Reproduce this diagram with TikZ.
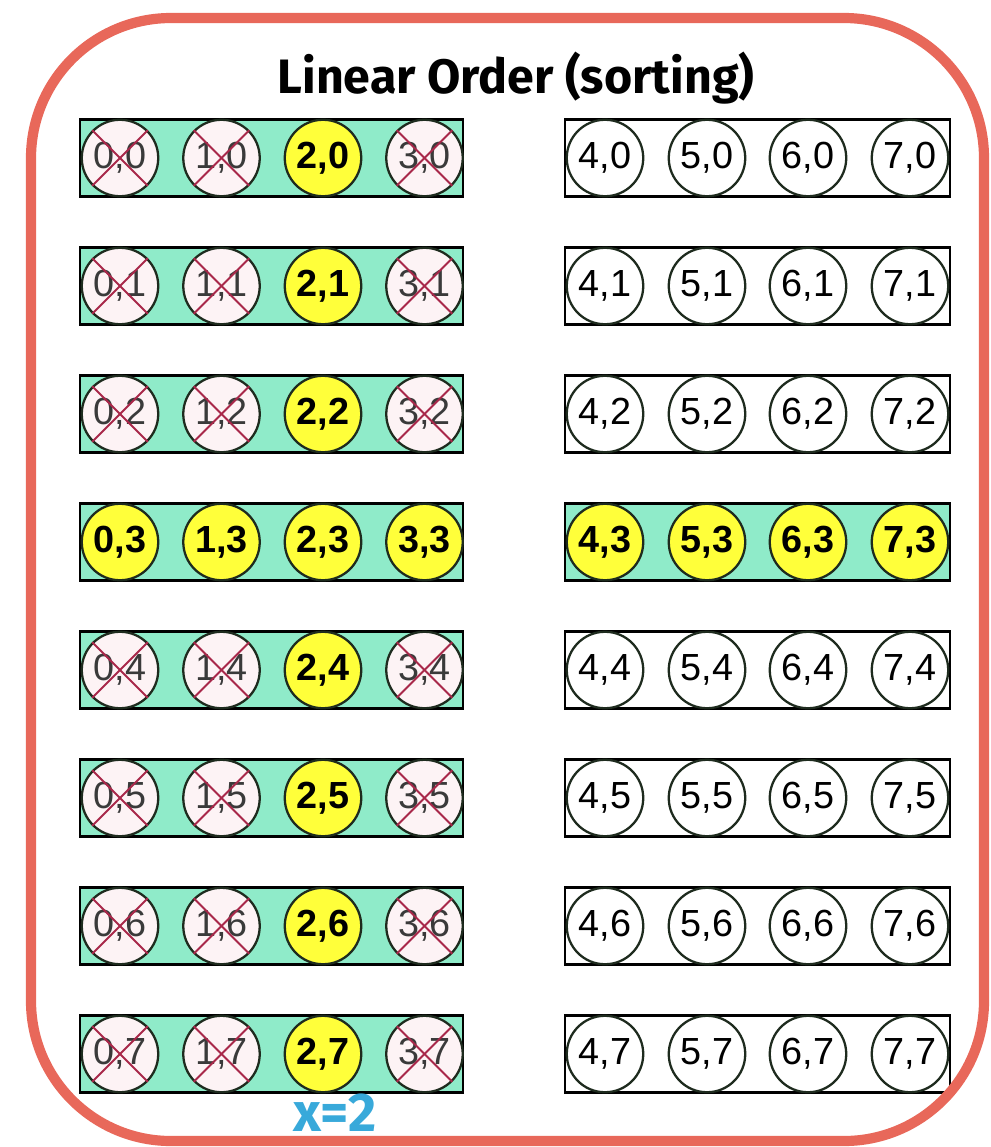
\documentclass[tikz,border=0pt]{standalone}
\usepackage{fontspec}
\setmainfont{Liberation Sans}
\newfontfamily\titlefont{Fira Sans}
\definecolor{outerred}{HTML}{E8685A}
\definecolor{aqua}{HTML}{8FEBC9}
\definecolor{hotyellow}{HTML}{FFFF3A}
\definecolor{deadfill}{HTML}{FDF3F5}
\definecolor{crossred}{HTML}{A8284A}
\definecolor{deadtext}{HTML}{3A3A3A}
\definecolor{cellline}{HTML}{1E2B1E}
\definecolor{xblue}{HTML}{38A9DA}
\begin{document}
\begin{tikzpicture}[x=0.02cm,y=-0.02cm,
  outer/.style={draw=outerred,line width=5.8pt,rounded corners=2.8cm},
  rowbox/.style={draw=black,line width=1.3pt,minimum height=1.54cm,inner sep=0pt},
  cell/.style={circle,draw=cellline,line width=1.3pt,minimum size=1.53cm,inner sep=0pt,
    font=\fontsize{21.5}{24}\selectfont},
  plain/.style={cell,fill=white,text=black},
  hot/.style={cell,fill=hotyellow,text=black,font=\fontsize{21.5}{24}\selectfont\bfseries},
  dead/.style={cell,fill=deadfill,text=deadtext},
  cross/.style={draw=crossred,line width=1.1pt},
  title/.style={font=\titlefont\bfseries\fontsize{27.5}{30}\selectfont,text=black},
  xlabel/.style={font=\titlefont\bfseries\fontsize{31}{33}\selectfont,text=xblue}
]
\useasboundingbox (0,0) rectangle (991,1147);
\node[title] (title) at (516,78) {Linear Order (sorting)};
\foreach \r in {0,...,7}{
  \pgfmathsetmacro\yy{158+128*\r}
  \node[rowbox,fill=aqua,minimum width=7.66cm] (L\r) at (271.5,\yy) {};
  \ifnum\r=3 \def\rf{aqua}\else\def\rf{white}\fi
  \node[rowbox,fill=\rf,minimum width=7.7cm] (R\r) at (757.5,\yy) {};
  \foreach \c/\xx in {0/120,1/221.5,2/323,3/424.5}{
    \ifnum\r=3
      \node[hot] (c\c-\r) at (\xx,\yy) {\c,\r};
    \else\ifnum\c=2
      \node[hot] (c\c-\r) at (\xx,\yy) {\c,\r};
    \else
      \node[dead] (c\c-\r) at (\xx,\yy) {\c,\r};
      \draw[cross] (c\c-\r.north west) -- (c\c-\r.south east);
      \draw[cross] (c\c-\r.north east) -- (c\c-\r.south west);
    \fi\fi
  }
  \foreach \c/\xx in {4/605,5/707,6/808,7/910}{
    \ifnum\r=3
      \node[hot] (c\c-\r) at (\xx,\yy) {\c,\r};
    \else
      \node[plain] (c\c-\r) at (\xx,\yy) {\c,\r};
    \fi
  }
}
\node[xlabel] (xval) at (335,1113) {x=2};
\draw[outer] (31,18) rectangle (984,1141);
\end{tikzpicture}
\end{document}
